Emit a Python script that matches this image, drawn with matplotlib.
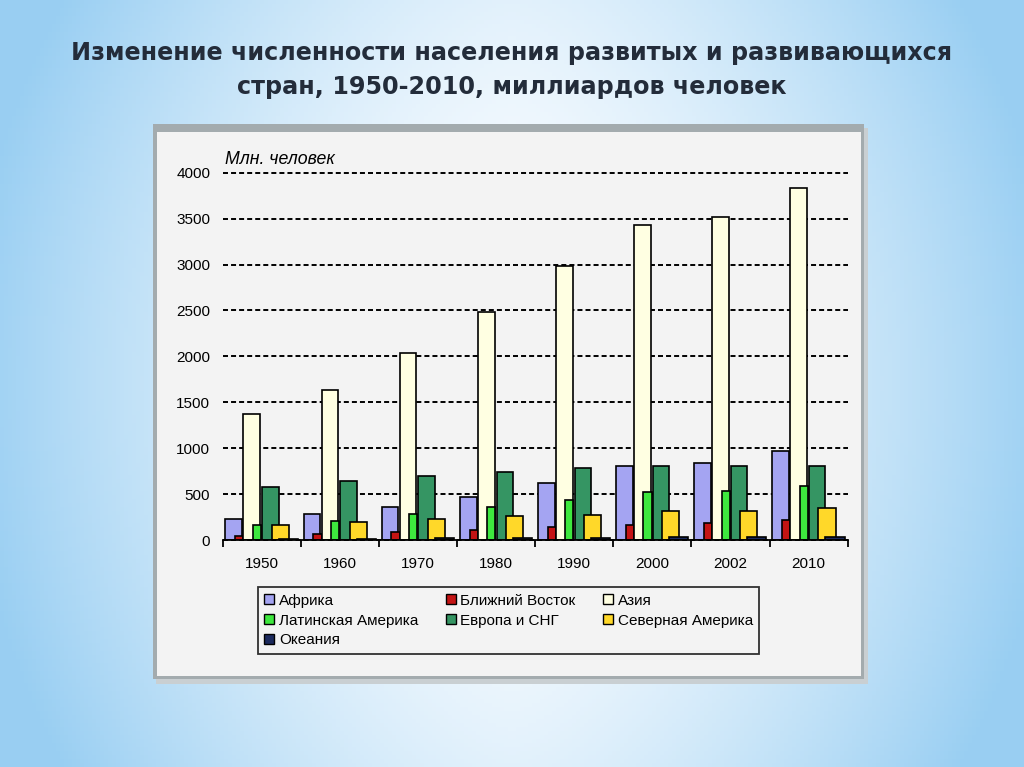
import numpy as np
import matplotlib
matplotlib.use("Agg")
import matplotlib.pyplot as plt
from matplotlib.patches import Rectangle, Patch

# ---- data (million people) ----
YEARS = ["1950", "1960", "1970", "1980", "1990", "2000", "2002", "2010"]
AFRICA = [225, 283, 363, 465, 624, 806, 842, 973]
MIDDLE_EAST = [44, 62, 83, 109, 138, 167, 189, 218]
ASIA = [1369, 1630, 2033, 2486, 2984, 3430, 3514, 3830]
LATIN_AMERICA = [160, 210, 283, 363, 436, 519, 534, 588]
EUROPE_CIS = [574, 639, 697, 744, 788, 803, 806, 806]
NORTH_AMERICA = [165, 196, 225, 261, 272, 319, 319, 352]
OCEANIA = [13, 16, 19, 23, 27, 31, 32, 37]

TITLE = "Изменение численности населения развитых и развивающихся\nстран, 1950-2010, миллиардов человек"
Y_LABEL = "Млн. человек"

# series: name, values, colour, left offset in group, width in group
SERIES = [
    ("Африка", AFRICA, "#a4a4f2", 0.035, 0.215),
    ("Ближний Восток", MIDDLE_EAST, "#c41414", 0.160, 0.105),
    ("Азия", ASIA, "#ffffe2", 0.265, 0.215),
    ("Латинская Америка", LATIN_AMERICA, "#3ee83e", 0.385, 0.105),
    ("Европа и СНГ", EUROPE_CIS, "#359563", 0.505, 0.210),
    ("Северная Америка", NORTH_AMERICA, "#ffd829", 0.625, 0.220),
    ("Океания", OCEANIA, "#1c2a5e", 0.715, 0.245),
]

W, H = 1024, 767
plt.rcParams["font.family"] = ["Liberation Sans", "DejaVu Sans"]
plt.rcParams["lines.scale_dashes"] = False

fig = plt.figure(figsize=(W / 100, H / 100), dpi=100)

# background: light blue at the sides, white in the middle
bg = fig.add_axes([0, 0, 1, 1])
xx, yy = np.meshgrid(np.linspace(-1, 1, 256), np.linspace(-1, 1, 192))
w = np.clip(np.abs(xx) ** 1.5 * 0.9 + np.abs(yy) ** 2 * 0.25, 0, 1)
blue = np.array([0.60, 0.81, 0.95])
img = (1 - w[..., None]) * np.array([0.98, 0.99, 1.0]) + w[..., None] * blue
bg.imshow(img, extent=[0, 1, 0, 1], aspect="auto", zorder=0)
bg.set_xlim(0, 1)
bg.set_ylim(0, 1)
bg.axis("off")


def fx(px):
    return px / W


def fy(py):
    return 1 - py / H


# chart panel with grey frame and shadow
bg.add_patch(Rectangle((fx(156), fy(684)), fx(868) - fx(156), fy(128) - fy(684),
                       facecolor="#c9cfd2", edgecolor="none", zorder=1))
bg.add_patch(Rectangle((fx(153), fy(679)), fx(864) - fx(153), fy(124) - fy(679),
                       facecolor="#a3abae", edgecolor="none", zorder=2))
bg.add_patch(Rectangle((fx(157), fy(676)), fx(861) - fx(157), fy(132) - fy(676),
                       facecolor="#f3f3f3", edgecolor="none", zorder=3))

fig.text(0.5, fy(70), TITLE, ha="center", va="center", fontsize=17.2,
         family=["DejaVu Sans"], weight="bold",
         color="#232c3a", linespacing=1.5)

ax = fig.add_axes([fx(222.7), fy(540), fx(847.7) - fx(222.7), fy(172.7) - fy(540)])
ax.patch.set_alpha(0)

x = np.arange(len(YEARS))
for z, (name, vals, col, off, wid) in enumerate(SERIES):
    ax.bar(x + off, vals, width=wid, align="edge", color=col,
           edgecolor="black", linewidth=1.2, zorder=3 + z, label=name)

ax.set_xlim(0, len(YEARS))
ax.set_ylim(0, 4000)
ax.set_yticks(np.arange(0, 4001, 500))
ax.yaxis.grid(True, color="black", linestyle=(0, (3.6, 2.2)), linewidth=1.4, zorder=1)
for gl in ax.get_ygridlines():
    gl.set_clip_on(False)
ax.set_axisbelow(True)
for s in ["top", "right", "left"]:
    ax.spines[s].set_visible(False)
ax.spines["bottom"].set_linewidth(1.3)
ax.spines["bottom"].set_zorder(20)

ax.set_xticks(np.arange(0, len(YEARS) + 1))
ax.set_xticklabels([])
ax.set_xticks(x + 0.5, minor=True)
ax.set_xticklabels(YEARS, minor=True)
ax.tick_params(axis="x", which="major", length=5, width=1.3, color="black")
ax.tick_params(axis="x", which="minor", length=0, pad=12, labelsize=11)
ax.tick_params(axis="y", length=0, pad=9, labelsize=11)

ax.text(0.004, 1.014, Y_LABEL, transform=ax.transAxes, ha="left", va="bottom",
        fontsize=12.8, style="italic")

# legend in row order, matplotlib fills columns first
handles = [Patch(facecolor=c, edgecolor="black", linewidth=1.0) for _, _, c, _, _ in SERIES]
names = [n for n, _, _, _, _ in SERIES]
order = [0, 3, 6, 1, 4, 2, 5]
leg = fig.legend([handles[i] for i in order], [names[i] for i in order],
                 loc="upper left", bbox_to_anchor=(fx(258), fy(587.3)),
                 ncol=3, fontsize=11, frameon=True, fancybox=False,
                 handlelength=0.65, handleheight=0.65, handletextpad=0.3,
                 columnspacing=1.8, labelspacing=0.38, borderpad=0.42,
                 borderaxespad=0)
leg.get_frame().set_edgecolor("black")
leg.get_frame().set_linewidth(1.3)
leg.get_frame().set_facecolor("#f3f3f3")

fig.savefig("out.png", dpi=100)
